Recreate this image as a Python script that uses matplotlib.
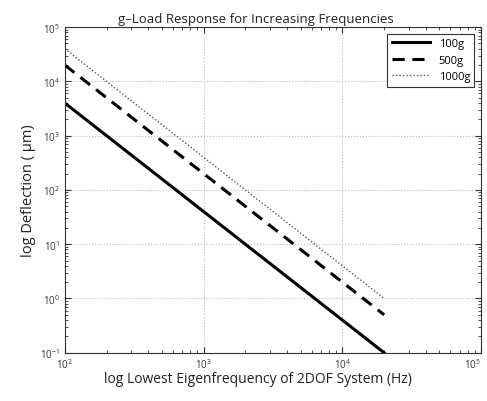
import matplotlib
matplotlib.use("Agg")
import matplotlib.pyplot as plt
from matplotlib.ticker import NullFormatter

# lowest eigenfrequency (Hz) and deflection (um) at end points of each line
freq = [100, 20000]
defl_100g = [4000, 0.1]
defl_500g = [20000, 0.5]
defl_1000g = [40000, 1.0]
xticks = [1e2, 1e3, 1e4, 1e5]

plt.rcParams["font.family"] = ["Open Sans", "DejaVu Sans"]

fig = plt.figure(figsize=(4.87, 4.02), dpi=100)
ax = fig.add_axes([0.133, 0.12, 0.855, 0.81])

ax.loglog(freq, defl_100g, color="black", lw=2.2, label="100g")
ax.loglog(freq, defl_500g, color="black", lw=2.2, ls=(0, (4, 2.5)), label="500g")
ax.loglog(freq, defl_1000g, color="#555555", lw=1.0, ls=(0, (1, 1.5)), label="1000g")

ax.set_xlim(1e2, 1e5)
ax.set_ylim(1e-1, 1e5)
ax.set_xticks(xticks)
ax.xaxis.set_minor_formatter(NullFormatter())
ax.yaxis.set_minor_formatter(NullFormatter())
ax.grid(True, which="major", ls=":", color="#bbbbbb", lw=0.8)
ax.tick_params(which="both", direction="in", top=True, right=True, labelsize=7, colors="#333333")
ax.tick_params(which="major", length=4)
ax.tick_params(which="minor", length=2)
for s in ax.spines.values():
    s.set_color("#333333")

# last x tick label sits on the figure edge, keep it inside
ax.xaxis.get_major_ticks()[-1].label1.set_horizontalalignment("right")

ax.set_title("g\u2013Load Response for Increasing Frequencies", fontsize=9.5, pad=4,
             color="#222222", x=0.46)
ax.set_xlabel("log Lowest Eigenfrequency of 2DOF System (Hz)", fontsize=10, labelpad=0,
              color="#222222", x=0.465)
ax.set_ylabel("log Deflection ( \u03bcm)", fontsize=10.5, labelpad=3, color="#222222")

leg = ax.legend(loc="upper right", fontsize=8, fancybox=False, edgecolor="#333333",
                handlelength=3.4, borderaxespad=0.6, framealpha=1)
leg.get_frame().set_linewidth(0.8)

fig.savefig("out.png", dpi=100)
